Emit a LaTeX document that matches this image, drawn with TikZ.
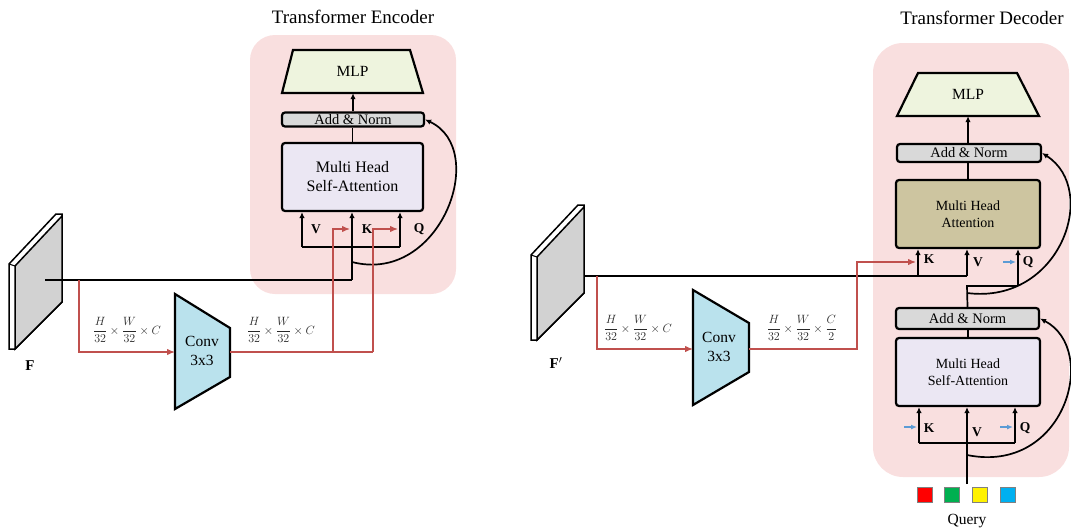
\documentclass[tikz,border=0pt]{standalone}
\usepackage{fontspec}
\setmainfont{Liberation Serif}
\usetikzlibrary{arrows.meta}
\definecolor{pinkbg}{RGB}{249,223,223}
\definecolor{mlpc}{RGB}{238,244,222}
\definecolor{grayc}{RGB}{217,217,217}
\definecolor{lavc}{RGB}{235,231,243}
\definecolor{tanc}{RGB}{205,197,160}
\definecolor{convc}{RGB}{186,226,237}
\definecolor{redc}{RGB}{192,80,77}
\definecolor{bluec}{RGB}{91,155,213}
\definecolor{dimc}{RGB}{40,40,40}
\tikzset{
  ln/.style={line width=1.7pt},
  arr/.style={line width=1.7pt,-{Latex[length=6pt,width=5.5pt]}},
  redln/.style={draw=redc,line width=1.3pt},
  redarr/.style={draw=redc,line width=1.3pt,-{Latex[length=8pt,width=6.5pt]}},
  bluearr/.style={draw=bluec,line width=1.3pt,-{Latex[length=6pt,width=5pt]}},
  boxst/.style={draw,line width=2.2pt,rounded corners=3pt,inner sep=0pt},
  trap/.style={draw,line width=2.2pt,line join=miter},
  ttl/.style={font=\fontsize{19}{22}\selectfont},
  kvq/.style={font=\fontsize{13.5}{15}\selectfont\bfseries},
  dim/.style={text=dimc,font=\fontsize{12.5}{14}\selectfont},
  sq/.style={draw=gray,line width=0.8pt,minimum size=15pt,inner sep=0pt}
}
\begin{document}
\begin{tikzpicture}[x=1pt,y=-1pt]
\useasboundingbox (0,0) rectangle (1071,530);

% ================= ENCODER =================
\fill[pinkbg,rounded corners=25pt] (250,35) rectangle (456,294);
\node[ttl] (tE) at (353,17) {Transformer Encoder};

\draw[trap,fill=mlpc] (282,93) -- (293,50) -- (410,50) -- (423,93) -- cycle;
\node[minimum width=141pt,minimum height=43pt,inner sep=0pt,font=\fontsize{15.5}{17}\selectfont] (mlpE) at (352.5,71.5) {MLP};
\node[boxst,fill=grayc,minimum width=142pt,minimum height=14pt,font=\fontsize{14.5}{15}\selectfont] (anE) at (353,119.5) {Add \& Norm};
\node[boxst,fill=lavc,minimum width=141pt,minimum height=68pt,align=center,font=\fontsize{16}{19}\selectfont] (mhE) at (352.5,177) {Multi Head\\Self-Attention};

\draw[arr] (anE.north) -- (anE.north |- mlpE.south);
\draw[ln] (mhE.north) -- (mhE.north |- anE.south);

\coordinate (eVb) at (302,247);
\coordinate (eKb) at (352,280);
\coordinate (eQb) at (400,247);
\coordinate (eFs) at (45,280);
\coordinate (eCs) at (352,262);

\node[kvq] (lVE) at (316,229) {V};
\node[kvq] (lKE) at (367,229) {K};
\node[kvq] (lQE) at (419,229) {Q};

% F plate
\draw[line width=1.5pt,fill=white,line join=miter] (9,264) -- (56,214) -- (62,214) -- (62,302) -- (15,349) -- (9,349) -- cycle;
\draw[line width=1.5pt,fill=gray!35,line join=miter] (15,266) -- (62,216) -- (62,302) -- (15,349) -- cycle;
\draw[line width=1pt] (9,264) -- (15,266);
\node[font=\fontsize{15}{17}\selectfont\bfseries] (lF) at (30,366) {F};

\draw[ln] (eVb) -- (eQb);
\draw[arr] (eVb) -- (eVb |- mhE.south);
\draw[arr] (eKb) -- (eKb |- mhE.south);
\draw[arr] (eQb) -- (eQb |- mhE.south);
\draw[ln] (eFs) -- (eKb);
\draw[arr] (eCs) .. controls (440,285) and (490,150) .. (anE.east);

% Conv encoder
\draw[trap,fill=convc] (175,294) -- (230,328) -- (230,377) -- (175,409) -- cycle;
\node[align=center,inner sep=0pt,font=\fontsize{15.5}{19}\selectfont] (convE) at (202,351) {Conv\\3x3};
\coordinate (cEin) at (175,352);
\coordinate (cEout) at (230,352);
\coordinate (eR1) at (79,280);
\coordinate (eRk) at (333,352);
\coordinate (eRq) at (373,352);
\coordinate (eRkt) at (333,229);
\coordinate (eRqt) at (373,229);
\coordinate (eKin) at (350,229);
\coordinate (eQin) at (398,229);

\draw[redarr] (eR1) -- (eR1 |- cEin) -- (cEin);
\draw[redln] (cEout) -- (eRq);
\draw[redarr] (eRk) -- (eRkt) -- (eKin);
\draw[redarr] (eRq) -- (eRqt) -- (eQin);

\node[dim] (dE1) at (127,330) {$\displaystyle\frac{H}{32}\times\frac{W}{32}\times C$};
\node[dim] (dE2) at (281,330) {$\displaystyle\frac{H}{32}\times\frac{W}{32}\times C$};

% ================= DECODER =================
\fill[pinkbg,rounded corners=30pt] (873,43) rectangle (1069,477);
\node[ttl] (tD) at (982,18) {Transformer Decoder};

\draw[trap,fill=mlpc] (897,116) -- (918,73) -- (1017,73) -- (1039,116) -- cycle;
\node[minimum width=142pt,minimum height=43pt,inner sep=0pt,font=\fontsize{15.5}{17}\selectfont] (mlpD) at (968,94.5) {MLP};
\node[boxst,fill=grayc,minimum width=144pt,minimum height=18pt,font=\fontsize{14.5}{15}\selectfont] (anD1) at (969,153) {Add \& Norm};
\node[boxst,fill=tanc,minimum width=144pt,minimum height=68pt,align=center,font=\fontsize{14}{17}\selectfont] (mhaD) at (968,214) {Multi Head\\Attention};
\node[boxst,fill=grayc,minimum width=143pt,minimum height=21pt,font=\fontsize{14.5}{15}\selectfont] (anD2) at (967.5,318.5) {Add \& Norm};
\node[boxst,fill=lavc,minimum width=144pt,minimum height=68pt,align=center,font=\fontsize{14}{17}\selectfont] (mhD) at (968,372) {Multi Head\\Self-Attention};

\draw[arr] (anD1.north -| mlpD.south) -- (mlpD.south);
\draw[ln] (mhaD.north) -- (mhaD.north |- anD1.south);
\draw[ln] (mhD.north) -- (mhD.north |- anD2.south);

% upper K V Q
\coordinate (dKb) at (918,276);
\coordinate (dVb) at (967,276);
\coordinate (dQb) at (1018,286);
\coordinate (dJ) at (967,286);
\coordinate (dFs) at (567,276);
\coordinate (dCs) at (967,293);
\node[kvq] (lKD1) at (929,259) {K};
\node[kvq] (lVD1) at (978,262) {V};
\node[kvq] (lQD1) at (1028,262) {Q};

\draw[ln] (dFs) -- (dVb);
\draw[arr] (dKb) -- (dKb |- mhaD.south);
\draw[arr] (dVb) -- (dVb |- mhaD.south);
\draw[ln] (anD2.north) -- (dJ) -- (dQb);
\draw[arr] (dQb) -- (dQb |- mhaD.south);
\draw[arr] (dCs) .. controls (1060,305) and (1100,190) .. (anD1.east);
\draw[bluearr] (1003,262) -- (1016,262);

% F' plate
\draw[line width=1.5pt,fill=white,line join=miter] (531,255) -- (578,205) -- (584,205) -- (584,293) -- (537,340) -- (531,340) -- cycle;
\draw[line width=1.5pt,fill=gray!35,line join=miter] (537,257) -- (584,207) -- (584,293) -- (537,340) -- cycle;
\draw[line width=1pt] (531,255) -- (537,257);
\node[font=\fontsize{15}{17}\selectfont\bfseries] (lFp) at (556,363) {F$'$};

% Conv decoder
\draw[trap,fill=convc] (693,290) -- (749,323) -- (749,372) -- (693,405) -- cycle;
\node[align=center,inner sep=0pt,font=\fontsize{15.5}{19}\selectfont] (convD) at (719,347) {Conv\\3x3};
\coordinate (cDin) at (693,349);
\coordinate (cDout) at (749,349);
\coordinate (dR1) at (597,276);
\coordinate (dRk) at (857,349);
\coordinate (dRkt) at (857,262);
\coordinate (dKin) at (916,262);
\draw[redarr] (dR1) -- (dR1 |- cDin) -- (cDin);
\draw[redarr] (cDout) -- (dRk) -- (dRkt) -- (dKin);

\node[dim] (dD1) at (638,328) {$\displaystyle\frac{H}{32}\times\frac{W}{32}\times C$};
\node[dim] (dD2) at (802,328) {$\displaystyle\frac{H}{32}\times\frac{W}{32}\times\frac{C}{2}$};

% lower K V Q
\coordinate (dK2) at (919,443);
\coordinate (dV2) at (967,443);
\coordinate (dQ2) at (1015,443);
\coordinate (dC2) at (967,455);
\node[kvq] (lKD2) at (929,428) {K};
\node[kvq] (lVD2) at (977,432) {V};
\node[kvq] (lQD2) at (1025,428) {Q};
\draw[ln] (dK2) -- (dQ2);
\draw[arr] (dK2) -- (dK2 |- mhD.south);
\draw[arr] (dQ2) -- (dQ2 |- mhD.south);
\draw[bluearr] (904,427) -- (917,427);
\draw[bluearr] (1000,427) -- (1013,427);
\draw[arr] (dC2) .. controls (1065,475) and (1100,350) .. (anD2.east);

% Query
\node[sq,fill=red] (q1) at (924.5,494.5) {};
\node[sq,fill={rgb,255:red,0;green,176;blue,80}] (q2) at (952,494.5) {};
\node[sq,fill=yellow] (q3) at (980,494.5) {};
\node[sq,fill={rgb,255:red,0;green,176;blue,240}] (q4) at (1008,494.5) {};
\coordinate (qTop) at (967,484);
\draw[arr] (qTop) -- (qTop |- mhD.south);
\node[font=\fontsize{15.5}{17}\selectfont] (lQuery) at (967,521) {Query};

\end{tikzpicture}
\end{document}
